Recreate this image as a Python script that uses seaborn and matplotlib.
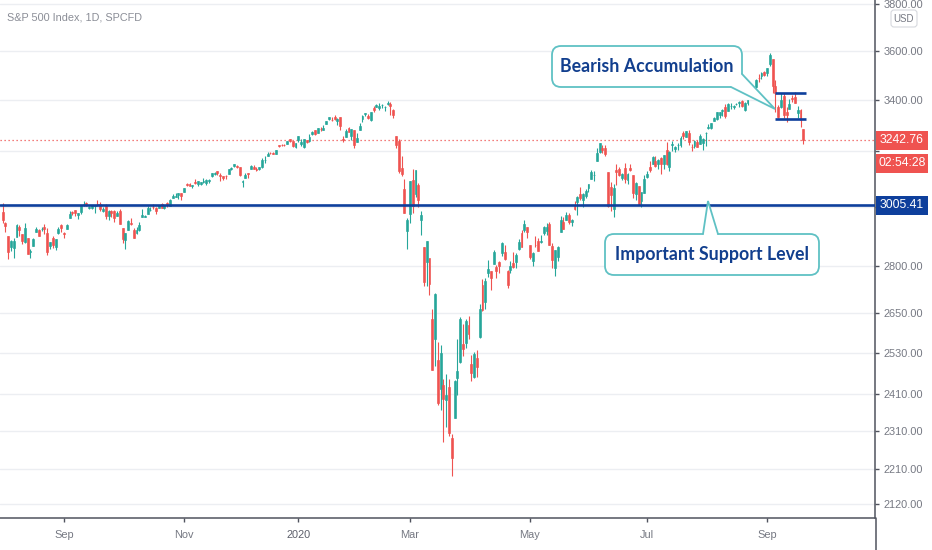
"""
S&P 500 daily candles (Aug 2019 - Sep 2020) in a TradingView-like look.
"""
import matplotlib
matplotlib.use("Agg")
import matplotlib.pyplot as plt
import seaborn as sns
import pandas as pd
import numpy as np
from matplotlib.patches import FancyBboxPatch, Polygon, Rectangle

sns.set_theme(style="white")
plt.rcParams["font.family"] = ["Liberation Sans", "DejaVu Sans"]

UP = "#26a69a"
DOWN = "#ef5350"
BLUE = "#0e3f9c"
TEAL = "#5fc1c4"
GRAY = "#767983"

# daily candles as (open, high, low, close), one list per month
aug_2019 = [
    (2980.3, 3013.6, 2945.2, 2953.6), (2943.9, 2945.5, 2914.1, 2932.1), (2898.1, 2898.1, 2822.1, 2844.7),
    (2861.2, 2884.4, 2847.4, 2881.8), (2858.7, 2892.2, 2825.7, 2884.0), (2896.2, 2938.7, 2894.5, 2938.1),
    (2930.5, 2935.8, 2900.2, 2918.7), (2907.1, 2907.6, 2873.1, 2882.7), (2880.7, 2943.3, 2877.1, 2926.3),
    (2894.2, 2894.2, 2839.6, 2840.6), (2846.2, 2856.7, 2825.5, 2847.6), (2864.7, 2893.6, 2864.7, 2888.7),
    (2913.5, 2931.0, 2913.5, 2923.7), (2919.0, 2923.6, 2899.6, 2900.5), (2922.0, 2928.7, 2917.9, 2924.4),
    (2930.9, 2939.1, 2904.5, 2923.0), (2911.1, 2927.0, 2835.0, 2847.1), (2866.7, 2879.3, 2856.0, 2878.4),
    (2893.1, 2898.8, 2860.6, 2869.2), (2861.3, 2890.0, 2853.1, 2887.9), (2910.4, 2930.5, 2905.7, 2924.6),
    (2937.1, 2940.4, 2913.3, 2926.5),
]
sep_2019 = [
    (2909.0, 2914.4, 2891.9, 2906.3), (2924.7, 2938.8, 2921.9, 2937.8), (2960.6, 2985.9, 2960.6, 2976.0),
    (2980.3, 2985.0, 2972.5, 2978.7), (2988.4, 2989.4, 2969.4, 2978.4), (2971.0, 2979.4, 2957.0, 2979.4),
    (2981.4, 3000.9, 2975.3, 3000.9), (3009.1, 3020.7, 3000.9, 3009.6), (3012.2, 3017.3, 3002.9, 3007.4),
    (2996.4, 3002.2, 2990.7, 2998.0), (2995.7, 3006.2, 2993.7, 3005.7), (3001.5, 3007.8, 2978.6, 3006.7),
    (3010.4, 3022.0, 3003.2, 3006.8), (3008.4, 3016.4, 2984.7, 2992.1), (2983.5, 2999.2, 2982.2, 2991.8),
    (3002.4, 3008.0, 2957.7, 2966.6), (2968.4, 2989.8, 2952.9, 2984.9), (2985.7, 2987.3, 2963.7, 2977.6),
    (2985.5, 2987.3, 2945.5, 2961.8), (2967.1, 2983.9, 2967.1, 2976.7),
]
oct_2019 = [
    (2983.7, 2992.5, 2938.7, 2940.3), (2924.8, 2924.8, 2874.9, 2887.6), (2885.4, 2911.1, 2855.9, 2910.6),
    (2918.6, 2953.7, 2918.6, 2952.0), (2944.2, 2959.8, 2935.7, 2938.8), (2920.4, 2925.5, 2892.7, 2893.1),
    (2911.1, 2929.3, 2907.4, 2919.4), (2918.6, 2948.5, 2917.1, 2938.1), (2963.1, 2993.3, 2963.1, 2970.3),
    (2965.8, 2972.8, 2962.9, 2966.2), (2973.6, 3003.3, 2973.6, 2995.7), (2989.7, 2997.5, 2985.2, 2989.7),
    (3000.8, 3008.3, 2991.8, 2998.0), (2996.8, 3000.0, 2976.3, 2986.2), (2996.5, 3007.3, 2995.4, 3006.7),
    (3010.7, 3014.6, 2995.0, 2996.0), (2994.0, 3004.8, 2991.2, 3004.5), (3014.8, 3016.1, 3000.4, 3010.3),
    (3003.3, 3027.4, 3001.9, 3022.6), (3032.1, 3044.1, 3032.1, 3039.4), (3035.4, 3047.9, 3034.8, 3036.9),
    (3039.7, 3050.1, 3026.0, 3046.8), (3046.9, 3046.9, 3023.2, 3037.6),
]
nov_2019 = [
    (3050.7, 3067.0, 3050.7, 3066.9), (3079.0, 3085.2, 3074.9, 3078.3), (3080.8, 3084.0, 3072.2, 3074.6),
    (3075.1, 3078.3, 3065.9, 3076.8), (3087.0, 3097.8, 3080.2, 3085.2), (3081.3, 3093.1, 3073.6, 3093.1),
    (3080.3, 3088.3, 3075.8, 3087.0), (3089.3, 3102.6, 3084.7, 3091.8), (3084.2, 3098.1, 3078.8, 3094.0),
    (3090.8, 3098.2, 3083.3, 3096.6), (3107.9, 3120.5, 3104.6, 3120.5), (3117.9, 3124.2, 3112.1, 3122.0),
    (3127.5, 3127.6, 3113.5, 3120.2), (3114.7, 3119.0, 3091.4, 3108.5), (3108.5, 3110.1, 3094.6, 3103.5),
    (3111.4, 3112.9, 3099.3, 3110.3), (3117.4, 3133.8, 3117.4, 3133.6), (3134.9, 3142.7, 3131.0, 3140.5),
    (3145.5, 3154.3, 3143.4, 3153.6), (3147.2, 3150.3, 3139.3, 3141.0),
]
dec_2019 = [
    (3143.9, 3144.3, 3110.8, 3113.9), (3087.4, 3095.0, 3070.3, 3093.2), (3103.5, 3119.4, 3102.5, 3112.8),
    (3119.2, 3119.5, 3103.8, 3117.4), (3134.6, 3150.6, 3134.6, 3145.9), (3141.9, 3148.9, 3135.5, 3136.0),
    (3135.4, 3142.1, 3126.1, 3132.5), (3135.8, 3144.0, 3133.2, 3141.6), (3141.2, 3176.3, 3138.5, 3168.6),
    (3166.7, 3182.7, 3156.5, 3168.8), (3183.6, 3197.7, 3183.6, 3191.5), (3195.4, 3198.2, 3191.0, 3192.5),
    (3195.2, 3198.5, 3191.1, 3191.1), (3192.3, 3205.5, 3192.3, 3205.4), (3223.3, 3225.7, 3216.0, 3221.2),
    (3226.1, 3227.8, 3222.3, 3224.0), (3225.5, 3226.4, 3220.5, 3223.4), (3227.2, 3240.1, 3227.2, 3239.9),
    (3247.2, 3247.9, 3234.4, 3240.0), (3240.1, 3240.9, 3216.6, 3221.3), (3215.2, 3231.7, 3212.0, 3230.8),
]
jan_2020 = [
    (3244.7, 3258.1, 3235.5, 3257.9), (3226.4, 3246.2, 3222.3, 3234.9), (3217.6, 3246.8, 3214.6, 3246.3),
    (3241.9, 3244.9, 3232.4, 3237.2), (3238.6, 3267.1, 3236.7, 3253.1), (3266.0, 3275.6, 3263.7, 3274.7),
    (3281.8, 3283.0, 3260.9, 3265.4), (3271.1, 3288.1, 3268.4, 3288.1), (3285.4, 3294.3, 3277.2, 3283.2),
    (3282.3, 3298.7, 3280.7, 3289.3), (3303.0, 3317.1, 3302.8, 3316.8), (3323.7, 3329.9, 3318.9, 3329.6),
    (3321.0, 3329.8, 3316.6, 3320.8), (3330.0, 3337.8, 3320.0, 3321.8), (3315.8, 3326.9, 3301.9, 3325.5),
    (3333.1, 3333.2, 3281.5, 3295.5), (3247.2, 3258.9, 3234.5, 3243.6), (3255.4, 3285.8, 3253.2, 3276.2),
    (3289.5, 3293.5, 3271.9, 3273.4), (3256.5, 3285.9, 3242.8, 3283.7), (3282.3, 3282.3, 3214.7, 3225.5),
]
feb_2020 = [
    (3235.7, 3268.4, 3235.7, 3248.9), (3280.6, 3306.9, 3280.6, 3297.6), (3324.9, 3337.6, 3313.8, 3334.7),
    (3344.9, 3348.0, 3334.4, 3345.8), (3335.5, 3341.4, 3322.1, 3327.7), (3318.3, 3352.3, 3317.8, 3352.1),
    (3365.9, 3375.6, 3352.7, 3357.8), (3370.5, 3381.5, 3369.7, 3379.5), (3365.9, 3385.1, 3360.5, 3373.9),
    (3378.1, 3380.7, 3366.2, 3380.2), (3369.0, 3375.0, 3355.6, 3370.3), (3380.4, 3393.5, 3378.8, 3386.2),
    (3380.5, 3389.2, 3341.0, 3373.2), (3360.5, 3360.8, 3328.5, 3337.8), (3257.6, 3259.8, 3214.7, 3225.9),
    (3238.9, 3247.0, 3118.8, 3128.2), (3139.9, 3182.5, 3109.0, 3116.4), (3062.5, 3097.1, 2977.4, 2978.8),
    (2916.9, 2959.7, 2855.8, 2954.2),
]
mar_2020 = [
    (2974.3, 3091.0, 2945.2, 3090.2), (3096.5, 3136.7, 2976.6, 3003.4), (3045.8, 3131.0, 3034.4, 3130.1),
    (3075.7, 3083.0, 2999.8, 3023.9), (2954.2, 2985.9, 2901.5, 2972.4), (2863.9, 2863.9, 2734.4, 2746.6),
    (2813.5, 2882.6, 2734.0, 2882.2), (2825.6, 2825.6, 2707.2, 2741.4), (2630.9, 2661.0, 2478.9, 2480.6),
    (2570.0, 2711.3, 2492.4, 2711.0), (2508.6, 2563.0, 2380.9, 2386.1), (2425.7, 2553.9, 2367.0, 2529.2),
    (2436.5, 2453.6, 2280.5, 2398.1), (2393.5, 2467.0, 2319.8, 2409.4), (2431.9, 2453.0, 2295.6, 2304.9),
    (2290.7, 2300.7, 2191.9, 2237.4), (2344.4, 2449.7, 2344.4, 2447.3), (2457.8, 2571.4, 2407.5, 2475.6),
    (2501.3, 2637.0, 2500.7, 2630.1), (2555.9, 2615.9, 2520.0, 2541.5), (2559.0, 2631.8, 2545.3, 2626.7),
    (2614.7, 2641.4, 2571.2, 2584.6),
]
apr_2020 = [
    (2498.1, 2522.8, 2447.5, 2470.5), (2458.5, 2533.2, 2455.8, 2526.9), (2514.9, 2538.2, 2460.0, 2488.7),
    (2578.3, 2676.9, 2574.6, 2663.7), (2738.7, 2756.9, 2657.7, 2659.4), (2685.0, 2760.8, 2663.3, 2750.0),
    (2777.0, 2818.6, 2762.4, 2789.8), (2782.5, 2782.5, 2721.2, 2761.6), (2805.1, 2851.9, 2805.1, 2846.1),
    (2795.6, 2801.9, 2761.5, 2783.4), (2812.6, 2815.8, 2776.0, 2799.6), (2842.4, 2879.2, 2830.9, 2874.6),
    (2845.6, 2869.0, 2820.4, 2823.2), (2784.8, 2785.5, 2727.1, 2736.6), (2787.9, 2815.1, 2776.0, 2799.3),
    (2810.4, 2844.9, 2794.3, 2797.8), (2812.6, 2842.7, 2791.8, 2836.7), (2854.7, 2887.7, 2852.9, 2878.5),
    (2910.0, 2921.2, 2860.7, 2863.4), (2918.5, 2954.9, 2912.2, 2939.5), (2930.9, 2930.9, 2892.5, 2912.4),
]
may_2020 = [
    (2869.1, 2869.1, 2821.6, 2830.7), (2815.0, 2844.2, 2797.9, 2842.7), (2868.9, 2898.2, 2863.6, 2868.4),
    (2883.1, 2891.1, 2847.7, 2848.4), (2878.3, 2901.9, 2876.5, 2881.2), (2908.8, 2932.2, 2902.9, 2929.8),
    (2915.5, 2944.3, 2903.4, 2930.3), (2939.5, 2945.8, 2869.6, 2870.1), (2865.9, 2874.1, 2793.2, 2820.0),
    (2794.5, 2852.8, 2766.6, 2852.5), (2830.0, 2865.0, 2816.8, 2863.7), (2913.9, 2968.1, 2913.9, 2953.9),
    (2948.6, 2964.2, 2922.4, 2922.9), (2953.6, 2980.3, 2953.6, 2971.6), (2970.0, 2978.5, 2938.6, 2948.5),
    (2948.1, 2956.8, 2933.6, 2955.5), (3004.1, 3021.7, 2988.2, 2991.8), (3015.7, 3036.3, 2969.8, 3036.1),
    (3046.6, 3068.7, 3023.4, 3029.7), (3025.2, 3049.2, 2998.6, 3044.3),
]
jun_2020 = [
    (3038.8, 3062.2, 3031.5, 3055.7), (3064.8, 3081.1, 3051.6, 3080.8), (3098.9, 3130.9, 3098.9, 3122.9),
    (3111.6, 3128.9, 3090.4, 3112.4), (3163.8, 3211.7, 3163.8, 3193.9), (3199.9, 3233.1, 3196.0, 3232.4),
    (3213.3, 3222.7, 3193.1, 3207.2), (3213.4, 3223.3, 3181.5, 3190.1), (3123.5, 3123.5, 2999.5, 3002.1),
    (3071.0, 3088.4, 2984.5, 3041.3), (2993.8, 3079.8, 2965.7, 3066.6), (3131.0, 3153.5, 3076.1, 3124.7),
    (3136.1, 3141.2, 3108.0, 3113.5), (3101.6, 3120.0, 3093.5, 3115.3), (3140.3, 3155.5, 3083.1, 3097.7),
    (3094.4, 3120.9, 3079.4, 3117.9), (3138.7, 3154.9, 3127.1, 3131.3), (3114.4, 3115.0, 3032.1, 3050.3),
    (3046.6, 3086.3, 3024.0, 3083.8), (3073.2, 3073.7, 3004.6, 3009.1), (3018.6, 3053.9, 2999.7, 3053.2),
    (3050.2, 3111.5, 3047.8, 3100.3),
]
jul_2020 = [
    (3105.9, 3128.4, 3101.2, 3115.9), (3143.6, 3165.8, 3124.5, 3130.0), (3155.3, 3182.6, 3155.3, 3179.7),
    (3166.4, 3184.2, 3142.9, 3145.3), (3153.1, 3171.8, 3136.5, 3169.9), (3176.2, 3179.8, 3115.7, 3152.1),
    (3152.5, 3186.8, 3136.2, 3185.0), (3205.1, 3235.3, 3149.4, 3155.2), (3141.1, 3201.0, 3127.7, 3197.5),
    (3226.0, 3238.3, 3200.8, 3226.6), (3208.4, 3220.4, 3198.6, 3215.6), (3224.2, 3233.5, 3205.7, 3224.7),
    (3224.3, 3258.6, 3215.2, 3251.8), (3268.5, 3277.3, 3247.8, 3257.3), (3254.9, 3279.3, 3253.1, 3276.0),
    (3271.6, 3280.0, 3222.7, 3235.7), (3218.6, 3227.3, 3200.1, 3215.6), (3219.8, 3241.4, 3214.3, 3239.4),
    (3234.3, 3243.7, 3216.2, 3218.4), (3227.2, 3264.7, 3227.2, 3258.4), (3231.8, 3250.9, 3204.1, 3246.2),
    (3270.5, 3272.2, 3220.3, 3271.1),
]
aug_2020 = [
    (3288.3, 3302.7, 3284.5, 3294.6), (3289.9, 3306.8, 3286.4, 3306.5), (3317.4, 3330.8, 3317.4, 3327.8),
    (3323.2, 3351.0, 3318.1, 3349.2), (3340.1, 3352.5, 3328.7, 3351.3), (3356.0, 3363.3, 3335.4, 3360.5),
    (3370.3, 3381.0, 3326.4, 3333.7), (3355.5, 3387.9, 3355.5, 3380.4), (3373.0, 3387.2, 3363.4, 3373.4),
    (3368.7, 3378.5, 3361.6, 3372.9), (3380.9, 3387.6, 3379.2, 3382.0), (3387.0, 3395.1, 3370.2, 3389.8),
    (3392.5, 3399.5, 3369.7, 3374.9), (3360.5, 3390.8, 3354.7, 3385.5), (3386.0, 3400.0, 3379.3, 3397.2),
    (3418.1, 3432.1, 3413.1, 3431.3), (3436.0, 3444.2, 3425.8, 3443.6), (3450.0, 3481.1, 3444.2, 3478.7),
    (3485.1, 3501.4, 3468.4, 3484.6), (3494.7, 3509.2, 3484.3, 3508.0), (3509.7, 3514.8, 3493.3, 3500.3),
]
sep_2020 = [
    (3507.4, 3528.0, 3494.6, 3526.7), (3543.8, 3588.1, 3535.2, 3580.8), (3564.7, 3564.9, 3427.4, 3455.1),
    (3453.6, 3479.2, 3349.6, 3427.0), (3371.9, 3380.0, 3329.3, 3331.8), (3369.8, 3424.8, 3366.8, 3399.0),
    (3412.6, 3425.6, 3329.3, 3339.2), (3352.7, 3369.0, 3310.5, 3341.0), (3363.6, 3402.9, 3363.6, 3383.5),
    (3407.7, 3419.5, 3389.3, 3401.2), (3411.2, 3428.9, 3384.5, 3385.5), (3346.9, 3375.2, 3328.8, 3357.0),
    (3357.4, 3362.3, 3292.4, 3319.5), (3285.6, 3285.6, 3229.1, 3242.8),
]
months = [aug_2019, sep_2019, oct_2019, nov_2019, dec_2019, jan_2020, feb_2020,
          mar_2020, apr_2020, may_2020, jun_2020, jul_2020, aug_2020, sep_2020]

market_holidays = ["2019-09-02", "2019-11-28", "2019-12-25", "2020-01-01", "2020-01-20",
                   "2020-02-17", "2020-04-10", "2020-05-25", "2020-07-03", "2020-09-07"]

y_ticks = [2120, 2210, 2310, 2410, 2530, 2650, 2800, 3000, 3200, 3400, 3600, 3800]
hidden_ticks = [3000, 3200]          # covered by the price labels on the scale
x_tick_months = ["2019-09", "2019-11", "2020-01", "2020-03", "2020-05", "2020-07", "2020-09"]
x_tick_labels = ["Sep", "Nov", "2020", "Mar", "May", "Jul", "Sep"]

last_price = 3242.76
support_level = 3005.41
range_top, range_bottom = 3428, 3322

rows = [c for m in months for c in m]
df = pd.DataFrame(rows, columns=["open", "high", "low", "close"])
days = pd.bdate_range("2019-08-01", "2020-09-21", freq="C", holidays=market_holidays)
df["date"] = days[:len(df)]
df["i"] = np.arange(len(df))

W, H = 932, 550
fig = plt.figure(figsize=(W / 100, H / 100), dpi=100)
fig.patch.set_facecolor("white")
ax = fig.add_axes([0, (H - 518) / H, 875 / W, 518 / H])
ax.set_facecolor("white")
ax.set_yscale("log")
ax.set_ylim(2086, 3819)
ax.set_xlim(-0.93, 312.7)

# grid
for t in y_ticks:
    ax.axhline(t, color="#eceef2", lw=1, zorder=0)

# candles
up = df["close"] >= df["open"]
colors = np.where(up, UP, DOWN)
ax.vlines(df["i"], df["low"], df["high"], colors=colors, lw=0.8, zorder=2)
body_bottom = np.minimum(df["open"], df["close"])
body_height = (df["close"] - df["open"]).abs()
ax.bar(df["i"], body_height, bottom=body_bottom, width=0.68, color=colors,
       edgecolor=colors, linewidth=0.45, zorder=3)

# reference lines
ax.axhline(last_price, color=DOWN, lw=0.9, ls=(0, (1, 2.2)), zorder=1)
ax.axhline(support_level, color=BLUE, lw=1.9, zorder=4)
ax.hlines([range_top, range_bottom], 276.8, 288.0, color=BLUE, lw=1.9, zorder=4)

# axes styling
for side in ["left", "top"]:
    ax.spines[side].set_visible(False)
for side in ["right", "bottom"]:
    ax.spines[side].set_color("#50535e")
    ax.spines[side].set_linewidth(1.1)
ax.yaxis.tick_right()
ax.yaxis.set_minor_locator(matplotlib.ticker.NullLocator())
ax.set_yticks(y_ticks)
ax.set_yticklabels(["" if t in hidden_ticks else f"{t:.2f}" for t in y_ticks])
ax.tick_params(axis="y", which="major", right=True, length=3, width=1, color="#50535e",
               pad=3, labelsize=7.9, labelcolor=GRAY)

month_key = df["date"].dt.strftime("%Y-%m")
x_ticks = [int(df.loc[month_key == m, "i"].iloc[0]) for m in x_tick_months]
ax.set_xticks(x_ticks)
ax.set_xticklabels(x_tick_labels)
ax.tick_params(axis="x", bottom=True, length=3, width=1, color="#50535e",
               pad=6, labelsize=7.9, labelcolor=GRAY)
for lbl in ax.get_xticklabels():
    if lbl.get_text() == "2020":
        lbl.set_color("#5d606b")
ax.grid(False)

# overlay in pixel coordinates for labels and callouts
ov = fig.add_axes([0, 0, 1, 1], zorder=10)
ov.set_xlim(0, W)
ov.set_ylim(H, 0)
ov.axis("off")
ov.patch.set_alpha(0)

ov.plot([876, 876], [518, H], color="#50535e", lw=1.1)
ov.text(7, 18, "S&P 500 Index, 1D, SPCFD", fontsize=7.8, color="#8a8d96", va="center", ha="left")


def price_px(value):
    return H - ax.transData.transform((0, value))[1]


def scale_label(y, text, color, h=19):
    ov.add_patch(Rectangle((876, y - h / 2), 52, h, fc=color, ec="none"))
    ov.text(902, y, text, color="white", fontsize=8.8, ha="center", va="center")


y_last = price_px(last_price)
scale_label(y_last, f"{last_price:.2f}", DOWN)
scale_label(y_last + 23, "02:54:28", DOWN)
scale_label(price_px(support_level), f"{support_level:.2f}", BLUE)

ov.add_patch(FancyBboxPatch((891, 10), 26, 17, boxstyle="round,pad=0,rounding_size=3",
                            fc="white", ec="#d6d8de", lw=0.8))
ov.text(904, 18.5, "USD", fontsize=7, color=GRAY, ha="center", va="center")


def bubble(x0, y0, x1, y1, tail, inner, text):
    ov.add_patch(FancyBboxPatch((x0, y0), x1 - x0, y1 - y0,
                                boxstyle="round,pad=0,rounding_size=9",
                                fc="white", ec=TEAL, lw=1.3, zorder=5))
    a, tip, b = tail
    ov.add_patch(Polygon([a, tip, b, inner], closed=True, fc="white", ec="none", zorder=6))
    ov.plot([a[0], tip[0], b[0]], [a[1], tip[1], b[1]], color=TEAL, lw=1.3, zorder=7,
            solid_joinstyle="miter")
    ov.text((x0 + x1) / 2, (y0 + y1) / 2, text, fontsize=12.8, fontweight="bold",
            family=["Lato", "Liberation Sans", "DejaVu Sans"],
            color="#123f8e", ha="center", va="center", zorder=8)


bubble(552, 46, 742, 87, [(742, 74), (775, 109), (731, 87)], (734, 79), "Bearish Accumulation")
bubble(605, 234, 819, 275, [(703, 234), (708, 201), (718, 234)], (710, 240), "Important Support Level")

fig.savefig("out.png", dpi=100)
plt.close(fig)
